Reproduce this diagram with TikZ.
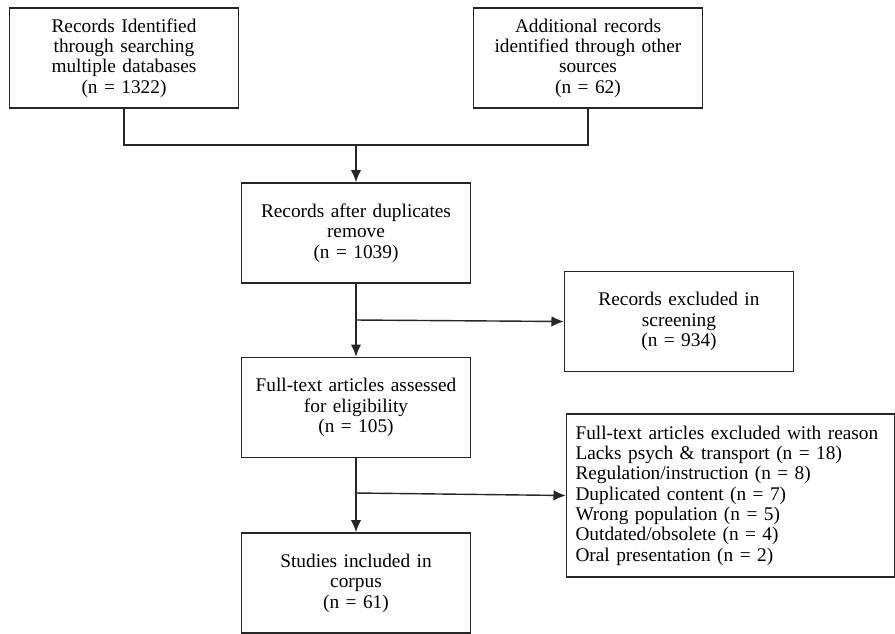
\documentclass[tikz,border=0pt]{standalone}
\usepackage{fontspec}
\setmainfont{Liberation Serif}
\usepackage{tikz}
\usetikzlibrary{positioning,calc}
\usetikzlibrary{arrows.meta}
\tikzset{
	stage/.style={draw=black!85,line width=0.8pt,fill=white,inner sep=4pt,
		text width=4.3cm,minimum width=4.52cm,minimum height=2cm,align=center,
		font=\fontsize{11}{11.6}\selectfont},
	reasons/.style={stage,text width=6.2cm,minimum width=6.56cm,minimum height=3.26cm,align=left},
	link/.style={draw=black!85,line width=0.8pt},
	flow/.style={link,-{Latex[length=7pt,width=6pt]}},
}

\begin{document}
\begin{tikzpicture}
			\useasboundingbox (0,0) rectangle (17.9,-12.66);
			% identification
			\node[stage] (search) at (2.48,-1.16) {Records Identified\\through searching\\multiple databases\\(n = 1322)};
			\node[stage] (other) at (11.76,-1.16) {Additional records\\identified through other\\sources\\(n = 62)};
			\coordinate (join) at (7.12,-2.9);
			\draw[link] (search.south) |- (join);
			\draw[link] (other.south) |- (join);
			% screening
			\node[stage] (dedup) at (7.12,-4.66) {Records after duplicates\\remove\\(n = 1039)};
			\draw[flow] (join) -- (dedup.north);
			\node[stage] (screened) at (13.58,-6.43) {Records excluded in\\screening\\(n = 934)};
			\node[stage] (fulltext) at (7.12,-8.15) {Full-text articles assessed\\for eligibility\\(n = 105)};
			\coordinate (split1) at (7.12,-6.4);
			\draw[flow] (dedup.south) -- (fulltext.north);
			\draw[flow] (split1) -- (screened.west);
			% eligibility
			\node[reasons] (excluded) at (14.61,-9.91) {Full-text articles excluded with reason\\
				Lacks psych \& transport (n = 18)\\
				Regulation/instruction (n = 8)\\
				Duplicated content (n = 7)\\
				Wrong population (n = 5)\\
				Outdated/obsolete (n = 4)\\
				Oral presentation (n = 2)};
			\node[stage] (included) at (7.12,-11.66) {Studies included in\\corpus\\(n = 61)};
			\coordinate (split2) at (7.12,-9.86);
			\draw[flow] (fulltext.south) -- (included.north);
			\draw[flow] (split2) -- (excluded.west);
		\end{tikzpicture}
\end{document}
